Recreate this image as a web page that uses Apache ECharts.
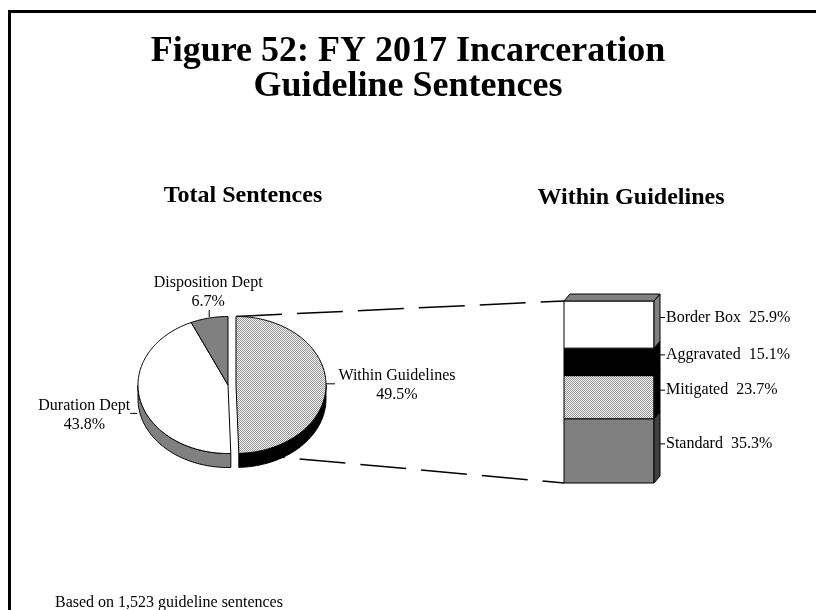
<!DOCTYPE html>
<html><head><meta charset="utf-8">
<script src="https://cdn.jsdelivr.net/npm/echarts@6/dist/echarts.min.js"></script>
<style>html,body{margin:0;padding:0;background:#fff}#c{width:816px;height:610px}</style>
</head><body><div id="c"></div>
<script>
// ---------- data ----------
const chartTitle = 'Figure 52: FY 2017 Incarceration\nGuideline Sentences';
const leftHeading = 'Total Sentences';
const rightHeading = 'Within Guidelines';
const footnote = 'Based on 1,523 guideline sentences';
const sliceNames = ['Within Guidelines', 'Duration Dept', 'Disposition Dept'];
const sliceValues = [49.5, 43.8, 6.7];
const segmentNames = ['Standard', 'Mitigated', 'Aggravated', 'Border Box'];
const segmentValues = [35.3, 23.7, 15.1, 25.9];

// ---------- styles / layout ----------
const FONT = '"Liberation Serif","Times New Roman",Times,serif';
const P = { cx: 228, cy: 385, rx: 90, ry: 68.5, depth: 14, explode: 8 };
const BAR3D = { dx: 6, dy: -7 };

function makePattern() {
  const c = document.createElement('canvas');
  c.width = 2; c.height = 2;
  const g = c.getContext('2d');
  g.fillStyle = '#f2f2f2'; g.fillRect(0, 0, 2, 2);
  g.fillStyle = '#999999'; g.fillRect(0, 0, 1, 1); g.fillRect(1, 1, 1, 1);
  return c;
}
const dotted = { image: makePattern(), repeat: 'repeat' };

const sliceTop = [dotted, '#ffffff', '#808080'];
const sliceSide = ['#000000', '#808080', '#404040'];
// label placement relative to the rim point at the slice's mid angle
const pieLabelLayout = [
  { lead: [[0, 0], [9, 0]], text: [71, 1] },
  { lead: [[-3, 13], [-10, 13]], text: [-56, 15] },
  { lead: [[0, -1], [0, -8]], text: [-1, -26] }
];
const segFront = ['#808080', dotted, '#000000', '#ffffff'];
const segSide = ['#404040', '#000000', '#000000', '#808080'];
const barTop = '#808080';

const total = sliceValues.reduce((a, b) => a + b, 0);
const pieData = [];
let acc = 0;
sliceValues.forEach((v) => { pieData.push([v, acc]); acc += v; });

const segTotal = segmentValues.reduce((a, b) => a + b, 0);
const barData = [];
let sacc = 0;
segmentValues.forEach((v) => { const pct = v / segTotal * 100; barData.push([0, sacc, sacc + pct, v]); sacc += pct; });

function rim(cx, cy, a, dy) {
  return [cx + P.rx * Math.sin(a), cy - P.ry * Math.cos(a) + (dy || 0)];
}
function arc(cx, cy, a0, a1, dy) {
  const pts = [];
  const n = Math.max(2, Math.ceil(Math.abs(a1 - a0) / 0.02));
  for (let k = 0; k <= n; k++) pts.push(rim(cx, cy, a0 + (a1 - a0) * k / n, dy));
  return pts;
}
function sliceCenter(i, a0, a1) {
  if (i !== 0) return [P.cx, P.cy];
  const m = (a0 + a1) / 2;
  return [P.cx + P.explode * Math.sin(m), P.cy - P.explode * Math.cos(m) * P.ry / P.rx];
}

function renderPie(params, api) {
  const i = params.dataIndex;
  const v = api.value(0), s = api.value(1);
  const a0 = s / total * Math.PI * 2, a1 = (s + v) / total * Math.PI * 2;
  const [cx, cy] = sliceCenter(i, a0, a1);
  const children = [];
  const sa = Math.max(a0, Math.PI / 2), sb = Math.min(a1, Math.PI * 1.5);
  if (sa < sb) {
    const pts = arc(cx, cy, sa, sb, 0).concat(arc(cx, cy, sb, sa, P.depth));
    children.push({ type: 'polygon', z2: 0, shape: { points: pts },
      style: { fill: sliceSide[i], stroke: '#000', lineWidth: 1 } });
  }
  const top = [[cx, cy]].concat(arc(cx, cy, a0, a1, 0));
  children.push({ type: 'polygon', z2: 1, shape: { points: top },
    style: { fill: sliceTop[i], stroke: '#000', lineWidth: 1 } });
  const m = (a0 + a1) / 2;
  const anc = rim(cx, cy, m, 0);
  const L = pieLabelLayout[i];
  children.push({ type: 'line', z2: 2, shape: {
      x1: anc[0] + L.lead[0][0], y1: anc[1] + L.lead[0][1],
      x2: anc[0] + L.lead[1][0], y2: anc[1] + L.lead[1][1] },
    style: { stroke: '#000', lineWidth: 1 } });
  children.push({ type: 'text', z2: 3, style: {
      text: sliceNames[i] + '\n' + v.toFixed(1) + '%',
      x: anc[0] + L.text[0], y: anc[1] + L.text[1],
      align: 'center', verticalAlign: 'middle',
      fontFamily: FONT, fontSize: 16, lineHeight: 19, fill: '#000' } });
  return { type: 'group', children };
}

function renderBar(params, api) {
  const i = params.dataIndex;
  const pBot = api.coord([api.value(0), api.value(1)]);
  const pTop = api.coord([api.value(0), api.value(2)]);
  const w = api.size([1, 0])[0];
  const x0 = pBot[0] - w / 2, x1 = x0 + w;
  const yB = pBot[1], yT = pTop[1];
  const { dx, dy } = BAR3D;
  const children = [];
  children.push({ type: 'rect', shape: { x: x0, y: yT, width: w, height: yB - yT },
    style: { fill: segFront[i], stroke: '#000', lineWidth: 1 } });
  children.push({ type: 'polygon', shape: { points: [[x1, yB], [x1 + dx, yB + dy], [x1 + dx, yT + dy], [x1, yT]] },
    style: { fill: segSide[i], stroke: '#000', lineWidth: 1 } });
  if (i === segmentValues.length - 1) {
    children.push({ type: 'polygon', shape: { points: [[x0, yT], [x0 + dx, yT + dy], [x1 + dx, yT + dy], [x1, yT]] },
      style: { fill: barTop, stroke: '#000', lineWidth: 1 } });
  }
  const ym = (yT + yB) / 2 + dy;
  children.push({ type: 'line', shape: { x1: x1 + dx, y1: ym, x2: x1 + dx + 5, y2: ym },
    style: { stroke: '#000', lineWidth: 1 } });
  children.push({ type: 'text', style: {
      text: segmentNames[i] + '  ' + segmentValues[i].toFixed(1) + '%',
      x: x1 + dx + 6, y: ym, align: 'left', verticalAlign: 'middle',
      fontFamily: FONT, fontSize: 16, fill: '#000' } });
  // connectors from the exploded slice to the bar
  const wa1 = sliceValues[0] / total * Math.PI * 2;
  const [wcx, wcy] = sliceCenter(0, 0, wa1);
  const dash = { stroke: '#000', lineWidth: 1.5, lineDash: [46, 15] };
  if (i === 0) {
    const p = rim(wcx, wcy, wa1, 0);
    children.push({ type: 'line', shape: { x1: p[0], y1: p[1], x2: x0, y2: yB }, style: dash });
  }
  if (i === segmentValues.length - 1) {
    const p = rim(wcx, wcy, 0, 0);
    children.push({ type: 'line', shape: { x1: p[0], y1: p[1], x2: x0, y2: yT }, style: dash });
  }
  return { type: 'group', children };
}

const chart = echarts.init(document.getElementById('c'), null, { renderer: 'canvas' });
chart.setOption({
  backgroundColor: '#ffffff',
  animation: false,
  title: {
    text: chartTitle, left: 'center', top: 34, padding: 0,
    textStyle: { fontFamily: FONT, fontWeight: 'bold', fontSize: 36, lineHeight: 35, color: '#000' }
  },
  grid: { left: 564, top: 301, width: 90, height: 182, show: false },
  xAxis: { type: 'category', data: [rightHeading], show: false },
  yAxis: { type: 'value', min: 0, max: 100, show: false },
  graphic: [
    { type: 'line', shape: { x1: 8, y1: 11.5, x2: 816, y2: 11.5 }, style: { stroke: '#000', lineWidth: 3 } },
    { type: 'line', shape: { x1: 9.5, y1: 10, x2: 9.5, y2: 610 }, style: { stroke: '#000', lineWidth: 3 } },
    { type: 'text', x: 243, y: 196, style: { text: leftHeading, align: 'center', verticalAlign: 'middle',
        fontFamily: FONT, fontWeight: 'bold', fontSize: 24, fill: '#000' } },
    { type: 'text', x: 631, y: 198, style: { text: rightHeading, align: 'center', verticalAlign: 'middle',
        fontFamily: FONT, fontWeight: 'bold', fontSize: 24, fill: '#000' } },
    { type: 'text', x: 55, y: 603, style: { text: footnote, align: 'left', verticalAlign: 'middle',
        fontFamily: FONT, fontSize: 16, fill: '#000' } }
  ],
  series: [
    { type: 'custom', name: rightHeading, coordinateSystem: 'cartesian2d', z: 1,
      renderItem: renderBar, data: barData, encode: { x: 0, y: [1, 2] } },
    { type: 'custom', name: leftHeading, coordinateSystem: 'none', z: 2,
      renderItem: renderPie, data: pieData }
  ]
});
</script>
</body></html>
